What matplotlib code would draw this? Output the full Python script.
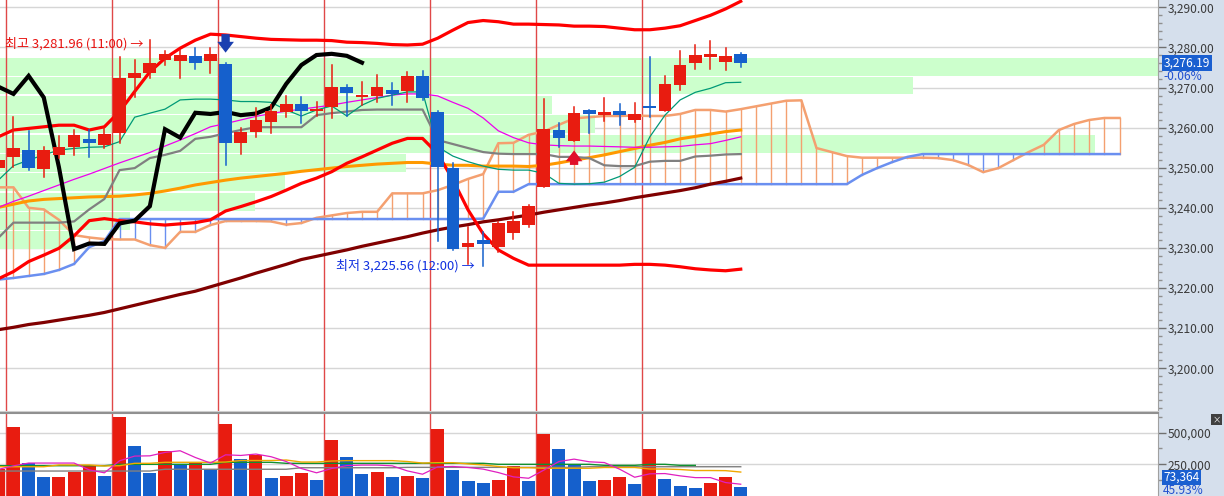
import numpy as np
import matplotlib
matplotlib.use('Agg')
import matplotlib.pyplot as plt
from matplotlib.transforms import blended_transform_factory
from matplotlib.ticker import FixedLocator, MultipleLocator, FuncFormatter

plt.rcParams['font.family'] = ['Noto Sans CJK KR', 'DejaVu Sans']

# ---------------- data (hourly bars, index -1 .. 48) ----------------
opens = [3249.9, 3252.7, 3254.4, 3249.6, 3253.2, 3255.1, 3257.2, 3255.7, 3258.7, 3272.4,
         3273.7, 3276.9, 3276.6, 3277.9, 3276.6, 3275.9, 3256.1, 3258.9, 3261.5, 3264.0,
         3266.0, 3264.1, 3265.2, 3270.1, 3267.6, 3267.8, 3269.4, 3269.1, 3272.9, 3264.0,
         3249.9, 3230.2, 3231.9, 3230.3, 3233.8, 3235.7, 3245.3, 3259.4, 3256.7, 3264.4,
         3263.1, 3264.1, 3261.9, 3265.3, 3264.2, 3270.6, 3276.2, 3277.7, 3276.4, 3278.4]
highs = [3253.0, 3262.6, 3259.2, 3255.2, 3257.9, 3259.4, 3259.4, 3259.8, 3277.7, 3276.9,
         3281.96, 3279.0, 3279.4, 3279.8, 3279.8, 3276.2, 3259.9, 3265.0, 3265.6, 3267.9,
         3267.7, 3266.5, 3275.6, 3270.6, 3271.4, 3273.1, 3271.2, 3273.9, 3274.2, 3264.2,
         3251.1, 3235.3, 3234.0, 3236.5, 3239.0, 3240.7, 3267.1, 3261.1, 3265.2, 3264.4,
         3267.3, 3265.9, 3266.2, 3277.7, 3272.9, 3279.2, 3280.6, 3281.6, 3279.8, 3278.7]
lows = [3248.5, 3250.2, 3249.4, 3247.6, 3252.5, 3253.2, 3252.6, 3254.8, 3256.1, 3267.7,
        3272.3, 3275.6, 3272.3, 3274.5, 3273.7, 3250.7, 3253.4, 3257.7, 3258.6, 3262.6,
        3261.1, 3262.9, 3262.3, 3262.9, 3265.6, 3266.5, 3265.6, 3266.5, 3266.9, 3231.8,
        3229.5, 3226.1, 3225.56, 3229.0, 3232.1, 3235.3, 3245.3, 3255.1, 3256.7, 3258.7,
        3261.7, 3260.6, 3261.5, 3262.7, 3264.2, 3269.5, 3274.5, 3274.5, 3274.4, 3275.0]
closes = [3251.9, 3254.8, 3249.9, 3254.4, 3255.1, 3258.2, 3256.1, 3258.4, 3272.4, 3273.5,
          3276.2, 3278.4, 3278.1, 3276.2, 3278.4, 3256.1, 3259.0, 3262.0, 3264.1, 3266.0,
          3264.1, 3264.6, 3270.2, 3268.7, 3268.1, 3270.2, 3268.4, 3272.9, 3267.5, 3250.1,
          3229.7, 3231.1, 3231.0, 3236.1, 3236.8, 3240.4, 3259.6, 3257.5, 3263.7, 3263.4,
          3263.9, 3263.1, 3263.5, 3265.0, 3270.9, 3275.6, 3278.1, 3278.4, 3277.9, 3276.19]
volumes = [212000, 548000, 264000, 150000, 152000, 190000, 233000, 159000, 627000, 397000,
           183000, 357000, 254000, 258000, 214000, 571000, 294000, 323000, 143000, 159000,
           183000, 127000, 444000, 310000, 175000, 190000, 151000, 159000, 143000, 532000,
           206000, 119000, 103000, 127000, 238000, 119000, 492000, 373000, 254000, 119000,
           127000, 151000, 95000, 373000, 135000, 79000, 64000, 103000, 151000, 73364]

# price overlays
bb_upper = [3257.7, 3259.4, 3259.8, 3260.2, 3260.6, 3260.6, 3259.4, 3260.2, 3264.0, 3269.0,
            3273.9, 3277.3, 3279.8, 3281.8, 3283.3, 3283.1, 3282.7, 3282.3, 3282.0, 3281.9,
            3281.8, 3281.8, 3281.7, 3281.3, 3281.2, 3281.0, 3280.7, 3280.6, 3280.8, 3282.3,
            3284.3, 3286.2, 3286.7, 3286.4, 3285.8, 3285.8, 3285.7, 3285.6, 3285.3, 3285.3,
            3285.2, 3284.8, 3284.4, 3284.4, 3284.8, 3285.4, 3286.7, 3288.0, 3289.6, 3291.5]
bb_lower = [3222.3, 3224.1, 3226.6, 3228.2, 3229.9, 3233.0, 3236.8, 3237.3, 3236.8, 3236.5,
            3236.0, 3235.7, 3236.0, 3236.3, 3237.0, 3239.2, 3240.3, 3241.5, 3242.8, 3244.4,
            3246.1, 3247.4, 3249.0, 3251.1, 3252.7, 3254.4, 3256.1, 3257.3, 3257.3, 3253.5,
            3247.0, 3239.5, 3233.5, 3229.5, 3227.4, 3225.7, 3225.7, 3225.7, 3225.7, 3225.7,
            3225.7, 3225.7, 3225.9, 3225.9, 3225.7, 3225.3, 3224.8, 3224.5, 3224.3, 3224.7]
tenkan = [3246.9, 3250.5, 3251.9, 3253.2, 3254.4, 3254.8, 3255.1, 3255.2, 3256.5, 3262.6,
          3263.6, 3264.6, 3266.9, 3267.1, 3267.1, 3266.9, 3266.5, 3266.5, 3266.3, 3264.4,
          3262.9, 3264.4, 3265.4, 3262.9, 3265.6, 3267.3, 3268.1, 3268.9, 3268.9, 3255.2,
          3252.9, 3251.5, 3250.4, 3249.6, 3249.4, 3249.4, 3248.6, 3246.1, 3245.9, 3246.0,
          3246.4, 3247.8, 3250.1, 3257.7, 3263.1, 3266.9, 3268.8, 3269.8, 3271.2, 3271.3]
kijun = [3232.5, 3236.3, 3236.3, 3236.3, 3236.3, 3236.6, 3239.6, 3242.2, 3249.4, 3249.9,
         3252.4, 3253.2, 3254.2, 3257.2, 3257.7, 3258.6, 3259.4, 3260.1, 3260.1, 3260.1,
         3260.1, 3263.1, 3263.6, 3264.0, 3264.4, 3264.5, 3264.5, 3264.5, 3264.5, 3256.9,
         3255.9, 3254.9, 3253.9, 3253.5, 3253.4, 3253.4, 3253.4, 3252.7, 3252.7, 3252.4,
         3250.6, 3250.4, 3250.4, 3251.5, 3251.7, 3251.7, 3252.8, 3253.0, 3253.3, 3253.4]
ma_magenta = [3240.1, 3241.6, 3242.9, 3244.3, 3245.7, 3247.1, 3248.4, 3249.8, 3251.2, 3252.5,
              3253.8, 3255.4, 3256.9, 3258.5, 3260.2, 3261.0, 3261.9, 3262.8, 3263.5, 3264.1,
              3264.6, 3265.1, 3265.6, 3266.3, 3266.9, 3267.5, 3268.1, 3268.4, 3268.4, 3267.9,
              3266.3, 3264.8, 3262.4, 3259.2, 3257.5, 3256.2, 3255.7, 3255.5, 3255.4, 3255.4,
              3255.3, 3255.2, 3255.1, 3255.1, 3255.2, 3255.3, 3255.7, 3256.0, 3256.8, 3257.7]
ma_orange = [3240.1, 3240.9, 3241.7, 3242.1, 3242.3, 3242.5, 3242.7, 3242.8, 3242.9, 3243.2,
             3243.6, 3244.2, 3244.9, 3245.7, 3246.3, 3246.9, 3247.4, 3247.8, 3248.2, 3248.6,
             3249.1, 3249.5, 3249.9, 3250.3, 3250.6, 3250.9, 3251.1, 3251.3, 3251.3, 3250.9,
             3250.6, 3250.6, 3250.4, 3250.4, 3250.4, 3250.3, 3250.6, 3251.2, 3251.9, 3252.5,
             3253.2, 3254.0, 3254.8, 3255.6, 3256.3, 3257.2, 3257.8, 3258.4, 3259.0, 3259.4]
ma_long = [3209.6, 3210.2, 3210.9, 3211.4, 3212.0, 3212.6, 3213.2, 3213.9, 3214.8, 3215.7,
           3216.6, 3217.5, 3218.4, 3219.2, 3220.3, 3221.4, 3222.5, 3223.7, 3224.8, 3225.9,
           3227.1, 3227.9, 3228.7, 3229.5, 3230.4, 3231.2, 3232.0, 3232.8, 3233.7, 3234.5,
           3235.2, 3235.8, 3236.5, 3237.0, 3237.6, 3238.2, 3238.9, 3239.5, 3240.1, 3240.7,
           3241.2, 3241.8, 3242.5, 3243.1, 3243.7, 3244.3, 3245.0, 3245.9, 3246.6, 3247.4]
# leading spans, index -1 .. 73
span_a = [3245.1, 3245.1, 3240.0, 3239.6, 3237.0, 3233.2, 3232.6, 3232.2, 3232.1, 3232.1,
          3230.7, 3230.0, 3234.0, 3234.0, 3235.7, 3236.7, 3236.7, 3236.7, 3236.6, 3235.8,
          3236.2, 3237.5, 3238.1, 3238.7, 3239.0, 3239.0, 3243.6, 3243.6, 3243.6, 3244.4,
          3245.7, 3247.2, 3248.4, 3256.1, 3256.2, 3258.2, 3259.0, 3260.7, 3262.3, 3262.6,
          3262.9, 3262.9, 3263.0, 3262.9, 3262.9, 3263.4, 3264.4, 3264.4, 3264.0, 3264.6,
          3265.3, 3266.0, 3266.7, 3266.8, 3254.9, 3253.9, 3252.9, 3252.5, 3252.5, 3252.5,
          3252.5, 3252.5, 3252.4, 3251.9, 3250.7, 3248.9, 3249.9, 3251.9, 3253.9, 3255.7,
          3259.4, 3260.9, 3261.9, 3262.4, 3262.4]
span_b = [3222.1, 3222.5, 3223.0, 3223.5, 3224.5, 3226.0, 3230.2, 3231.7] + [3237.2] * 24 + \
         [3237.3, 3244.0, 3244.0] + [3245.9] * 22 + [3248.2, 3249.9, 3251.4, 3252.7] + [3253.4] * 14

# volume overlays
vma_magenta = [210000, 238000, 260000, 260000, 260000, 260000, 206000, 183000, 278000, 315000,
               317000, 344000, 357000, 304000, 260000, 325000, 320000, 331000, 310000, 272000,
               217000, 183000, 217000, 240000, 244000, 244000, 238000, 198000, 172000, 230000,
               233000, 225000, 212000, 185000, 151000, 140000, 204000, 272000, 291000, 270000,
               264000, 212000, 148000, 175000, 177000, 159000, 145000, 145000, 106000, 93000]
vma_orange = [231000] * 4 + [245000] * 3 + [237000, 239000, 258000, 258000] + [266000] * 4 + \
             [268000] + [280000] * 3 + [284000, 268000, 268000, 276000] + [279000] * 4 + \
             [272000, 260000, 263000, 263000, 253000, 245000, 233000, 223000, 223000] + \
             [219000] * 4 + [225000] * 3 + [213000, 213000, 209000, 201000, 201000, 200000, 189000]
vma_green = [239000] * 8 + [250000] * 7 + [266000] * 4 + [258000] * 14 + [250000] * 7 + \
            [242000] * 3 + [250000] * 2 + [242000] * 2 + [np.nan] * 3
vma_gray = [197000] * 11 + [211000] * 9 + [223000] * 7 + [226000] * 12 + [231000] * 11

# volume-by-price profile (share of the plot width)
profile_price = [3275.2, 3270.5, 3265.7, 3260.9, 3256.0, 3251.2, 3246.4, 3241.5, 3236.7, 3232.0]
profile_share = [1.0, 0.788, 0.477, 0.514, 0.946, 0.351, 0.246, 0.22, 0.112, 0.062]
profile_bin = 4.8

bars_per_session = 7
high_label = '최고 3,281.96 (11:00) →'
low_label = '최저 3,225.56 (12:00) →'
change_label = '-0.06%'
vol_ratio_label = '45.93%'

# ---------------- drawing ----------------
RED, BLUE = '#e81c10', '#1560cc'
W, H = 1224, 496
fig = plt.figure(figsize=(W / 100, H / 100), dpi=100, facecolor='#d5dfec')
pw = 1158 / W
ax = fig.add_axes([0, (H - 411) / H, pw, 411 / H])
axv = fig.add_axes([0, 0, pw, 83 / H])

n = len(closes)
k = np.arange(-1, n - 1)
ks = np.arange(-1, len(span_a) - 1)
xlim = (-0.89, 75.54)

# profile bands
for p, s in zip(profile_price, profile_share):
    ax.add_patch(plt.Rectangle((xlim[0], p - profile_bin / 2 + 0.17), s * (xlim[1] - xlim[0]),
                               profile_bin - 0.34, facecolor='#ccffcc', edgecolor='none', zorder=0.6))

# grid
for y in range(3200, 3291, 10):
    ax.axhline(y, color='#d6d6d6', lw=1, zorder=0.3)

# session separators
for a in (ax, axv):
    for s in np.arange(-0.5, k[-1], bars_per_session):
        a.axvline(s, color='#e04848', lw=1, zorder=1.0)

# ichimoku cloud
sa, sb = np.array(span_a), np.array(span_b)
for x, a_, b_ in zip(ks, sa, sb):
    ax.plot([x, x], [a_, b_], color='#f4a070' if a_ >= b_ else '#6a8ff0', lw=1, zorder=1.2)
ax.plot(ks, sa, color='#f4a070', lw=1.8, zorder=1.5)
ax.plot(ks, sb, color='#6a8ff0', lw=1.8, zorder=1.5)

# moving lines
ax.plot(k, ma_long, color='#800000', lw=2.3, zorder=2)
ax.plot(k, ma_orange, color='#ff9900', lw=2.2, zorder=2)
ax.plot(k, kijun, color='#808080', lw=1.6, zorder=2)
ax.plot(k, ma_magenta, color='#ee00ee', lw=0.9, zorder=2)
ax.plot(k, tenkan, color='#009977', lw=0.9, zorder=2)
ax.plot(k, bb_upper, color='#ff0000', lw=2.3, zorder=2.2)
ax.plot(k, bb_lower, color='#ff0000', lw=2.3, zorder=2.2)
lag = 25
ax.plot(k[:-lag], closes[lag:], color='black', lw=3.0, zorder=2.3, solid_joinstyle='miter')

# candles
for x, o, h, l, c in zip(k, opens, highs, lows, closes):
    col = RED if c >= o else BLUE
    ax.plot([x, x], [l, h], color=col, lw=1.1, zorder=3)
    body = max(abs(c - o), 0.35)
    ax.add_patch(plt.Rectangle((x - 0.42, min(o, c)), 0.84, body, facecolor=col,
                               edgecolor='none', zorder=3.1))

# signal arrows
ax.annotate('', xy=(14, 3278.0), xytext=(14, 3284.0),
            arrowprops=dict(arrowstyle='simple,head_width=1.0,head_length=0.65,tail_width=0.5',
                            mutation_scale=12, fc='#1a3fb0', ec='none'), zorder=5)
ax.annotate('', xy=(37, 3255.0), xytext=(37, 3250.0),
            arrowprops=dict(arrowstyle='simple,head_width=1.0,head_length=0.65,tail_width=0.5',
                            mutation_scale=12, fc='#e0102a', ec='none'), zorder=5)

# high / low labels
ih = int(np.argmax(highs)); il = int(np.argmin(lows))
ax.text(k[ih] - 0.45, highs[ih] - 1.0, high_label, color='#e8100e', fontsize=9.4,
        ha='right', va='center', zorder=6)
ax.text(k[il] - 0.55, lows[il], low_label, color='#1030e0', fontsize=9.4,
        ha='right', va='center', zorder=6)

ax.set_xlim(*xlim)
ax.set_ylim(3189.33, 3291.82)
ax.set_xticks([])
ax.yaxis.tick_right()
ax.yaxis.set_major_locator(FixedLocator(np.arange(3200, 3291, 10)))
ax.yaxis.set_minor_locator(MultipleLocator(2))
ax.yaxis.set_major_formatter(FuncFormatter(lambda v, p: f'{v:,.2f}'))
ax.tick_params(axis='y', which='major', direction='out', length=5.8, width=1, color='#707070',
               pad=1, labelsize=8.6, labelcolor='#3a3a3a')
ax.tick_params(axis='y', which='minor', direction='out', length=3, width=1, color='#909090')
for sp in ('left', 'top'):
    ax.spines[sp].set_visible(False)
ax.spines['right'].set_color('#a0a0a0')
ax.spines['bottom'].set_color('#d0d0d0')

# price tag
tr = blended_transform_factory(ax.transAxes, ax.transData)
ax.text(1.005, closes[-1], f'{closes[-1]:,.2f}', transform=tr, color='white', fontsize=8.6,
        ha='left', va='center', clip_on=False, zorder=7,
        bbox=dict(boxstyle='square,pad=0.12', fc='#1a5fd0', ec='none'))
fig.text(1163 / W, 1 - 76 / H, change_label, color='#2050d0', fontsize=8.6, ha='left', va='center')

# volume
vcol = [RED] + [RED if volumes[i] >= volumes[i - 1] else BLUE for i in range(1, n)]
axv.bar(k, volumes, width=0.86, color=vcol, zorder=3)
for y in (250000, 500000):
    axv.axhline(y, color='#d6d6d6', lw=1, zorder=0.3)
axv.plot(k, vma_gray, color='#808080', lw=1.0, zorder=4)
axv.plot(k, vma_green, color='#109030', lw=1.0, zorder=4)
axv.plot(k, vma_orange, color='#f0a800', lw=1.0, zorder=4)
axv.plot(k, vma_magenta, color='#e020c0', lw=0.9, zorder=4)
axv.set_xlim(*xlim)
axv.set_ylim(0, 655000)
axv.set_xticks([])
axv.yaxis.tick_right()
axv.yaxis.set_major_locator(FixedLocator([250000, 500000]))
axv.yaxis.set_minor_locator(FixedLocator([125000, 375000, 625000]))
axv.yaxis.set_major_formatter(FuncFormatter(lambda v, p: f'{v:,.0f}'))
axv.tick_params(axis='y', which='major', direction='out', length=5.8, width=1, color='#707070',
                pad=1, labelsize=8.6, labelcolor='#3a3a3a')
axv.tick_params(axis='y', which='minor', direction='out', length=3, width=1, color='#909090')
for sp in ('left', 'bottom'):
    axv.spines[sp].set_visible(False)
axv.spines['right'].set_color('#a0a0a0')
axv.spines['top'].set_color('#909090')
axv.spines['top'].set_linewidth(1.5)

fig.text(1163 / W, 1 - 477.5 / H, f'{volumes[-1]:,}', color='white', fontsize=8.6, ha='left',
         va='center', bbox=dict(boxstyle='square,pad=0.12', fc='#1a5fd0', ec='none'))
fig.text(1163 / W, 1 - 490 / H, vol_ratio_label, color='#2050d0', fontsize=8.6, ha='left', va='center')
fig.text(1216.5 / W, 1 - 419.5 / H, '×', color='white', fontsize=6, ha='center', va='center',
         bbox=dict(boxstyle='square,pad=0.1', fc='#404040', ec='none'))

fig.savefig('out.png', dpi=100)
